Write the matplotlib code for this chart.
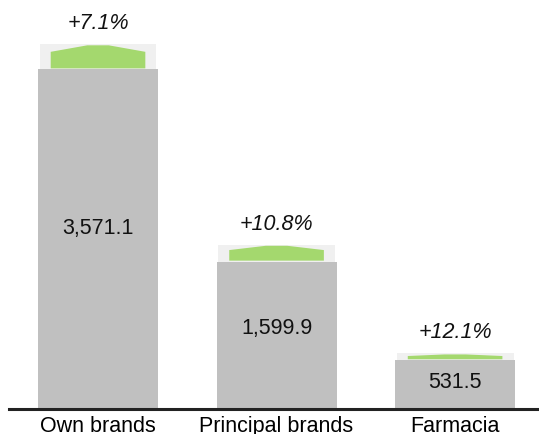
import matplotlib
matplotlib.use("Agg")
import matplotlib.pyplot as plt
import numpy as np

categories = ["Own brands", "Principal brands", "Farmacia"]
values = [3571.1, 1599.9, 531.5]
growth_pct = [7.1, 10.8, 12.1]
value_labels = ["3,571.1", "1,599.9", "531.5"]
growth_labels = ["+7.1%", "+10.8%", "+12.1%"]

plt.rcParams['font.family'] = ['Liberation Sans', 'DejaVu Sans']

fig = plt.figure(figsize=(5.39, 4.34), dpi=100)
ax = fig.add_axes([9/539, 25.5/434, 1 - 9/539, 408.5/434])

x = np.arange(len(categories))
cur = np.array(values)
prior = cur / (1 + np.array(growth_pct) / 100)

bar_w = 0.672
band_w = 0.655
green_w = 0.53

gray = "#c0c0c0"
band_c = "#f0f0f0"
green = "#a4d86e"

ax.bar(x, prior, width=bar_w, color=gray, zorder=2)
ax.bar(x, cur - prior + 10, bottom=prior, width=band_w, color=band_c, zorder=1)

for xi, p, c in zip(x, prior, cur):
    d = c - p
    bot = p + 10
    sh = c - 0.27 * d
    hw = green_w / 2
    pw = 0.06
    xs = [xi - hw, xi - hw, xi - pw, xi + pw, xi + hw, xi + hw]
    ys = [bot, sh, c, c, sh, bot]
    ax.fill(xs, ys, color=green, lw=0, zorder=3)

fs = 15.5
for xi, c, vl, gl in zip(x, cur, value_labels, growth_labels):
    ax.text(xi, c / 2 - 15, vl, ha='center', va='center', fontsize=fs, color='#111111', zorder=4)
    ax.annotate(gl, (xi, c), xytext=(0, 11.5), textcoords='offset points',
                ha='center', va='baseline', fontsize=fs, style='italic', color='#111111')

ax.set_xlim(-0.4986, 2.47)
ax.set_ylim(0, 408.5 / 0.1017)
for s in ['top', 'right', 'left']:
    ax.spines[s].set_visible(False)
ax.spines['bottom'].set_linewidth(2.2)
ax.spines['bottom'].set_color('#222222')
ax.set_yticks([])
ax.set_xticks(x)
ax.set_xticklabels(categories, fontsize=fs)
ax.tick_params(axis='x', length=0, pad=5.5)
ax.patch.set_alpha(0)

fig.savefig("out.png", dpi=100)
